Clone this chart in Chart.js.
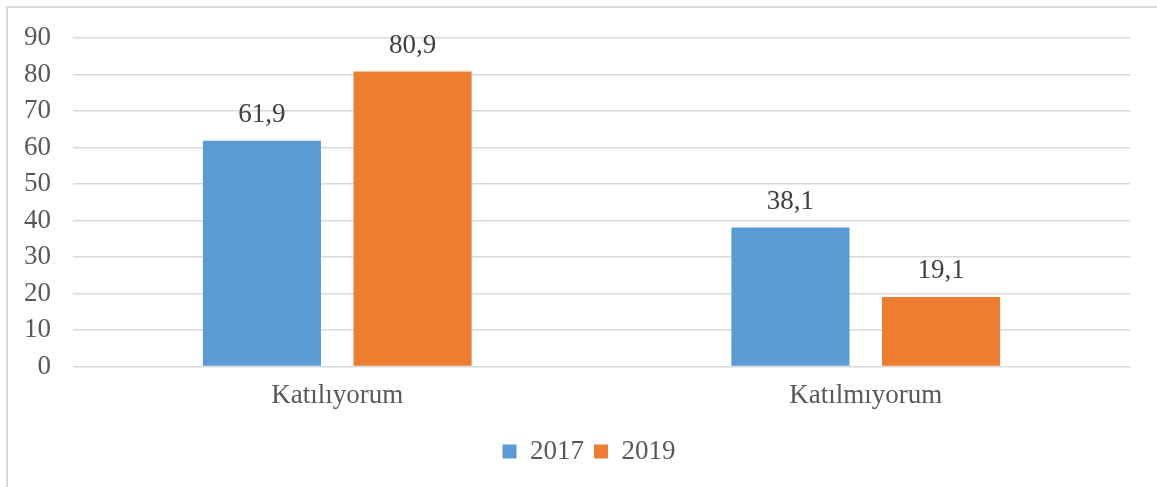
<!DOCTYPE html>
<html>
<head>
<meta charset="utf-8">
<script src="https://cdn.jsdelivr.net/npm/chart.js@4.4.1/dist/chart.umd.min.js"></script>
<style>
  html, body { margin: 0; padding: 0; background: #fff; }
  #wrap { position: relative; width: 1157px; height: 487px; overflow: hidden; }
  #frame { position: absolute; left: 6px; top: 6px; width: 1200px; height: 520px; border: 2px solid #d9d9d9; box-sizing: border-box; }
  #c { position: absolute; left: 0; top: 0; }
</style>
</head>
<body>
<div id="wrap">
  <div id="frame"></div>
  <canvas id="c" width="1157" height="487"></canvas>
</div>
<script>
const categories = ["Katılıyorum", "Katılmıyorum"];
const seriesNames = ["2017", "2019"];
const values2017 = [61.9, 38.1];
const values2019 = [80.9, 19.1];
const yTicks = [0, 10, 20, 30, 40, 50, 60, 70, 80, 90];

const FONT = "'Liberation Serif', 'Times New Roman', serif";
const TEXT = "#595959";

const dataLabels = {
  id: 'dataLabels',
  afterDatasetsDraw(chart) {
    const ctx = chart.ctx;
    ctx.save();
    ctx.font = "27px " + FONT;
    ctx.fillStyle = "#404040";
    ctx.textAlign = "center";
    ctx.textBaseline = "bottom";
    chart.data.datasets.forEach((ds, i) => {
      chart.getDatasetMeta(i).data.forEach((bar, j) => {
        const txt = ds.data[j].toFixed(1).replace('.', ',');
        ctx.fillText(txt, bar.x, bar.y - 12);
      });
    });
    ctx.restore();
  }
};

const legendShift = {
  id: 'legendShift',
  afterLayout(chart) {
    if (chart.legend) { chart.legend.left += 23; chart.legend.right += 23; }
  }
};

new Chart(document.getElementById('c'), {
  type: 'bar',
  data: {
    labels: categories,
    datasets: [
      { label: seriesNames[0], data: values2017, backgroundColor: '#5B9BD5', categoryPercentage: 0.57, barPercentage: 0.784 },
      { label: seriesNames[1], data: values2019, backgroundColor: '#ED7D31', categoryPercentage: 0.57, barPercentage: 0.784 }
    ]
  },
  options: {
    responsive: false,
    animation: false,
    layout: { padding: { left: 2, right: 27, top: 20, bottom: 12 } },
    plugins: {
      legend: {
        position: 'bottom',
        labels: { font: { family: FONT, size: 27 }, color: TEXT, boxWidth: 14, boxHeight: 14, padding: 10 }
      },
      tooltip: { enabled: false }
    },
    scales: {
      x: {
        grid: { display: false },
        border: { display: false },
        ticks: { font: { family: FONT, size: 27 }, color: TEXT, padding: 5 },
        afterFit(scale) { scale.height += 11; }
      },
      y: {
        min: 0, max: 90,
        afterBuildTicks(scale) { scale.ticks = yTicks.map(v => ({ value: v })); },
        grid: { color: '#d9d9d9', lineWidth: 1.5, drawTicks: false },
        border: { display: false },
        ticks: { font: { family: FONT, size: 27 }, color: TEXT, padding: 22, autoSkip: false }
      }
    }
  },
  plugins: [dataLabels, legendShift]
});
</script>
</body>
</html>
